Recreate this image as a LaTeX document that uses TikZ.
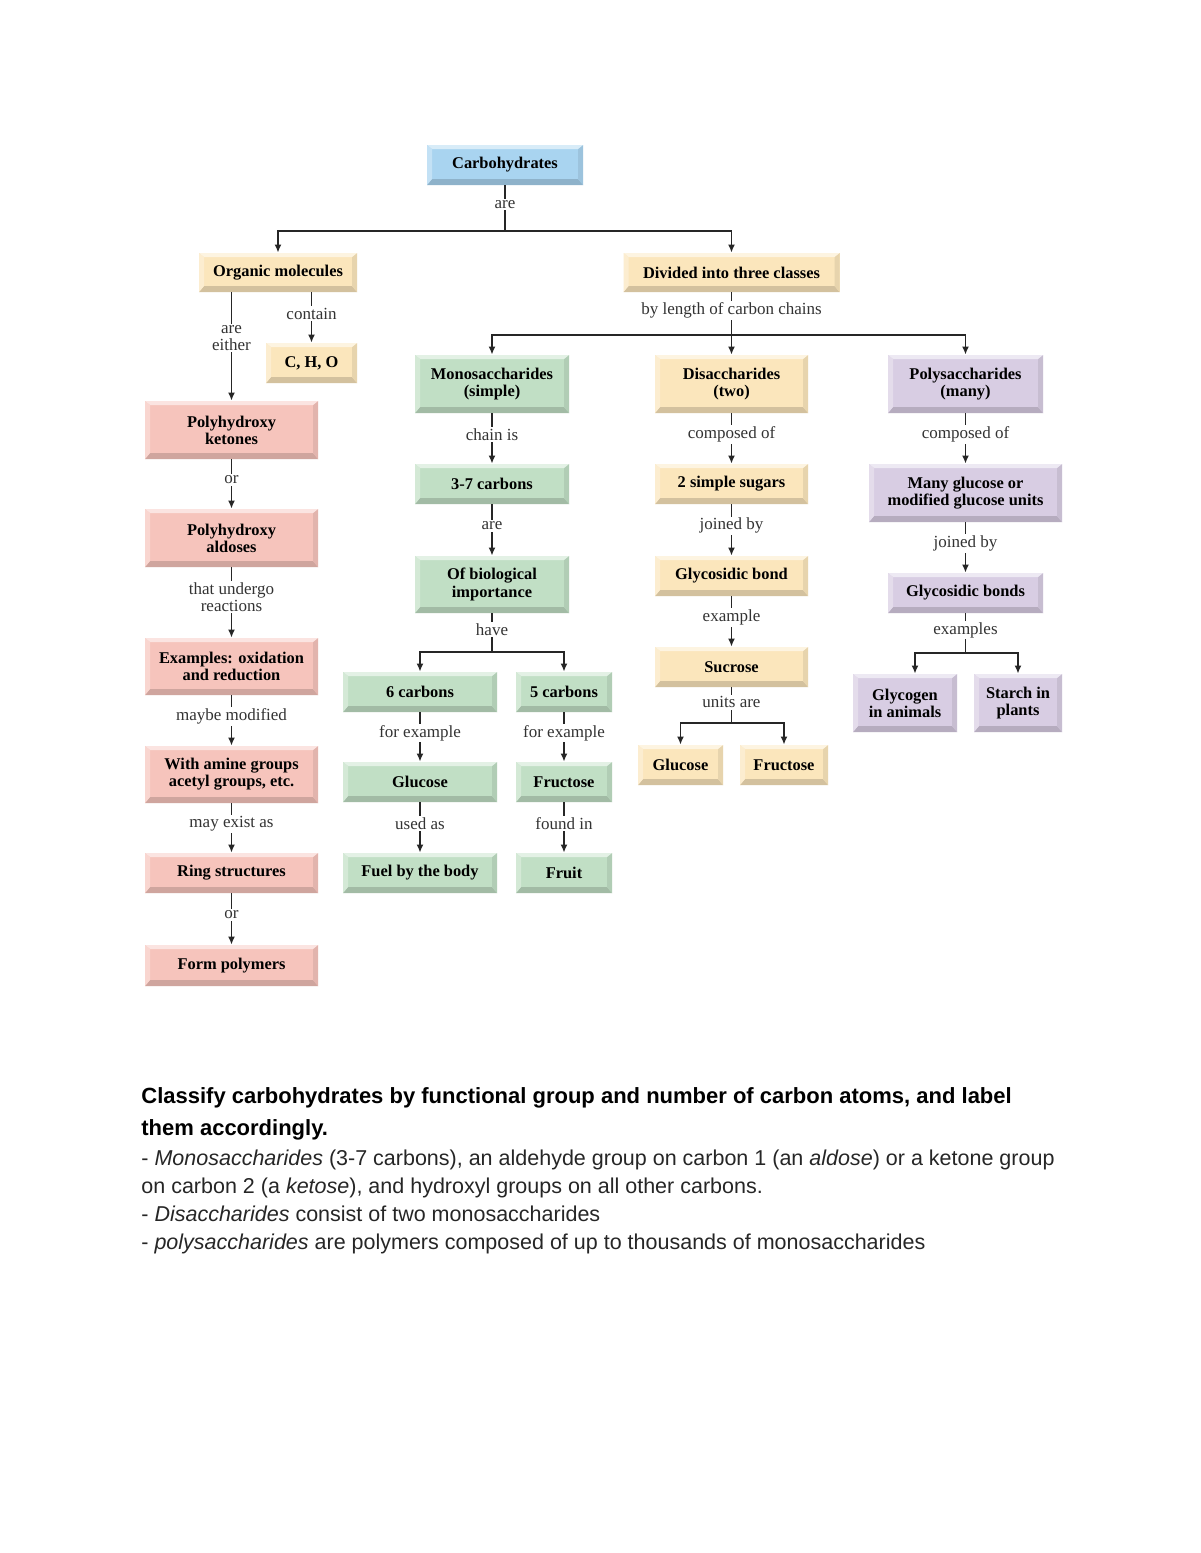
\documentclass[tikz,border=0pt]{standalone}
\usepackage{fontspec}
\usetikzlibrary{arrows.meta}
\newfontfamily\docfont{Liberation Sans}
\newfontfamily\chartfont{Liberation Serif}
\definecolor{carbblue}{HTML}{A9D4F0}
\definecolor{carbcream}{HTML}{FBE6BC}
\definecolor{carbpink}{HTML}{F6C4BC}
\definecolor{carbgreen}{HTML}{C1DFC5}
\definecolor{carblilac}{HTML}{D8CDE3}
\newcommand\boxfont{\chartfont\fontsize{8.2}{8.6}\selectfont\bfseries}
\newcommand\lblfont{\chartfont\fontsize{8.5}{8.6}\selectfont}
\newcommand\bevel[1]{%
  \path (path picture bounding box.south west) coordinate (b1)
        (path picture bounding box.south east) coordinate (b2)
        (path picture bounding box.north east) coordinate (b3)
        (path picture bounding box.north west) coordinate (b4);
  \fill [#1!84!black] (b1) -- (b2) -- ([shift={(-2.5pt,3pt)}]b2) -- ([shift={(2.5pt,3pt)}]b1) -- cycle;
  \fill [#1!92!black] (b2) -- (b3) -- ([shift={(-2.5pt,-2pt)}]b3) -- ([shift={(-2.5pt,3pt)}]b2) -- cycle;
  \fill [#1!45!white] (b3) -- (b4) -- ([shift={(2.5pt,-2pt)}]b4) -- ([shift={(-2.5pt,-2pt)}]b3) -- cycle;
  \fill [#1!70!white] (b4) -- (b1) -- ([shift={(2.5pt,3pt)}]b1) -- ([shift={(2.5pt,-2pt)}]b4) -- cycle;}
\tikzset{tile/.style={rectangle, inner sep=0pt, align=center, font=\boxfont, fill=#1, path picture={\bevel{#1}}}}
\tikzstyle{bluebox}=[tile=carbblue]
\tikzstyle{creambox}=[tile=carbcream]
\tikzstyle{pinkbox}=[tile=carbpink]
\tikzstyle{greenbox}=[tile=carbgreen]
\tikzstyle{lilacbox}=[tile=carblilac]
\tikzset{link/.style={draw=black!85, line width=0.9pt, -{Latex[length=4pt,width=3.5pt]}}}
\tikzstyle{trunk}=[draw=black!85, line width=0.9pt]
\tikzstyle{lbl}=[fill=white, inner sep=0.8pt, align=center, font=\lblfont, text=black!80, pos=0.42]
\tikzstyle{note}=[anchor=base west, inner sep=0pt, text=black!85]

\begin{document}
\begin{tikzpicture}[x=0.5pt, y=-0.5pt]

\fill [white] (0,0) rectangle (1200,1553);
\useasboundingbox (0,0) rectangle (1200,1553);

\node [bluebox, minimum width=78pt, minimum height=20pt] (carb) at (505,165) {Carbohydrates};
\node [creambox, minimum width=79pt, minimum height=19.5pt] (org) at (278,272.5) {Organic molecules};
\node [creambox, minimum width=108pt, minimum height=19.5pt] (div) at (731.5,272.5) {Divided into three classes};
\node [creambox, minimum width=45.5pt, minimum height=20pt] (cho) at (311.5,363) {C, H, O};

% left column
\node [pinkbox, minimum width=86.5pt, minimum height=29pt] (ket) at (231.5,430) {Polyhydroxy\\ketones};
\node [pinkbox, minimum width=86.5pt, minimum height=29pt] (ald) at (231.5,538) {Polyhydroxy\\aldoses};
\node [pinkbox, minimum width=86.5pt, minimum height=28.5pt] (redox) at (231.5,666.5) {Examples: oxidation\\and reduction};
\node [pinkbox, minimum width=86.5pt, minimum height=28.5pt] (amine) at (231.5,774.5) {With amine groups\\acetyl groups, etc.};
\node [pinkbox, minimum width=86.5pt, minimum height=20pt] (ring) at (231.5,873) {Ring structures};
\node [pinkbox, minimum width=86.5pt, minimum height=20.5pt] (polym) at (231.5,965.5) {Form polymers};

% monosaccharides
\node [greenbox, minimum width=77pt, minimum height=29pt] (mono) at (492,384) {Monosaccharides\\(simple)};
\node [greenbox, minimum width=77pt, minimum height=20pt] (c37) at (492,484) {3-7 carbons};
\node [greenbox, minimum width=77pt, minimum height=28.5pt] (bio) at (492,584.5) {Of biological\\importance};
\node [greenbox, minimum width=77pt, minimum height=20pt] (six) at (420,692) {6 carbons};
\node [greenbox, minimum width=48pt, minimum height=20pt] (five) at (564,692) {5 carbons};
\node [greenbox, minimum width=77pt, minimum height=20pt] (glu) at (420,782) {Glucose};
\node [greenbox, minimum width=48pt, minimum height=20pt] (fru) at (564,782) {Fructose};
\node [greenbox, minimum width=77pt, minimum height=20pt] (fuel) at (420,873) {Fuel by the body};
\node [greenbox, minimum width=48pt, minimum height=20pt] (fruit) at (564,873) {Fruit};

% disaccharides
\node [creambox, minimum width=76.5pt, minimum height=29pt] (di) at (731.5,384) {Disaccharides\\(two)};
\node [creambox, minimum width=76.5pt, minimum height=20pt] (sug) at (731.5,484) {2 simple sugars};
\node [creambox, minimum width=76.5pt, minimum height=20pt] (gbond) at (731.5,576) {Glycosidic bond};
\node [creambox, minimum width=76.5pt, minimum height=20pt] (suc) at (731.5,667) {Sucrose};
\node [creambox, minimum width=42.5pt, minimum height=20pt] (glu2) at (680.5,765) {Glucose};
\node [creambox, minimum width=44pt, minimum height=20pt] (fru2) at (784,765) {Fructose};

% polysaccharides
\node [lilacbox, minimum width=77.5pt, minimum height=29pt] (pol) at (965.5,384) {Polysaccharides\\(many)};
\node [lilacbox, minimum width=96.5pt, minimum height=29pt] (units) at (965.5,493) {Many glucose or\\modified glucose units};
\node [lilacbox, minimum width=77.5pt, minimum height=20pt] (gbonds) at (965.5,593) {Glycosidic bonds};
\node [lilacbox, minimum width=52pt, minimum height=29pt] (glyc) at (905,703) {Glycogen\\in animals};
\node [lilacbox, minimum width=44pt, minimum height=29pt] (starch) at (1018,703) {Starch in\\plants};

\coordinate (j1) at (505,231);
\coordinate (j2) at (731.5,335);
\coordinate (j3) at (492,652);
\coordinate (j4) at (731.5,723);
\coordinate (j5) at (965.5,653);

\draw [trunk] (carb) -- node [lbl] {are} (j1);
\draw [link] (j1) -| (org);
\draw [link] (j1) -| (div);

\draw [link] (ket |- org.south) -- node [lbl] {are\\either} (ket);
\draw [link] (cho |- org.south) -- node [lbl] {contain} (cho);
\draw [link] (ket) -- node [lbl] {or} (ald);
\draw [link] (ald) -- node [lbl] {that undergo\\reactions} (redox);
\draw [link] (redox) -- node [lbl] {maybe modified} (amine);
\draw [link] (amine) -- node [lbl] {may exist as} (ring);
\draw [link] (ring) -- node [lbl] {or} (polym);

\draw [trunk] (div) -- node [lbl] {by length of carbon chains} (j2);
\draw [link] (j2) -| (mono);
\draw [link] (j2) -- (di);
\draw [link] (j2) -| (pol);

\draw [link] (mono) -- node [lbl] {chain is} (c37);
\draw [link] (c37) -- node [lbl] {are} (bio);
\draw [trunk] (bio) -- node [lbl] {have} (j3);
\draw [link] (j3) -| (six);
\draw [link] (j3) -| (five);
\draw [link] (six) -- node [lbl] {for example} (glu);
\draw [link] (five) -- node [lbl] {for example} (fru);
\draw [link] (glu) -- node [lbl] {used as} (fuel);
\draw [link] (fru) -- node [lbl] {found in} (fruit);

\draw [link] (di) -- node [lbl] {composed of} (sug);
\draw [link] (sug) -- node [lbl] {joined by} (gbond);
\draw [link] (gbond) -- node [lbl] {example} (suc);
\draw [trunk] (suc) -- node [lbl] {units are} (j4);
\draw [link] (j4) -| (glu2);
\draw [link] (j4) -| (fru2);

\draw [link] (pol) -- node [lbl] {composed of} (units);
\draw [link] (units) -- node [lbl] {joined by} (gbonds);
\draw [trunk] (gbonds) -- node [lbl] {examples} (j5);
\draw [link] (j5) -| ([xshift=5pt]glyc.north);
\draw [link] (j5) -| (starch);

% text below the chart
\node [note, text=black, font={\fontsize{11}{13}\docfont\bfseries}] (head1) at (141,1103) {Classify carbohydrates by functional group and number of carbon atoms, and label};
\node [note, text=black, font={\fontsize{11}{13}\docfont\bfseries}] (head2) at (141,1135) {them accordingly.};
\node [note, font={\fontsize{10.75}{13}\docfont}] (line1) at (141,1165) {- \textit{Monosaccharides} (3-7 carbons), an aldehyde group on carbon 1 (an \textit{aldose}) or a ketone group};
\node [note, font={\fontsize{10.75}{13}\docfont}] (line2) at (141,1193) {on carbon 2 (a \textit{ketose}), and hydroxyl groups on all other carbons.};
\node [note, font={\fontsize{10.75}{13}\docfont}] (line3) at (141,1221) {- \textit{Disaccharides} consist of two monosaccharides};
\node [note, font={\fontsize{10.75}{13}\docfont}] (line4) at (141,1249) {- \textit{polysaccharides} are polymers composed of up to thousands of monosaccharides};

\end{tikzpicture}
\end{document}
